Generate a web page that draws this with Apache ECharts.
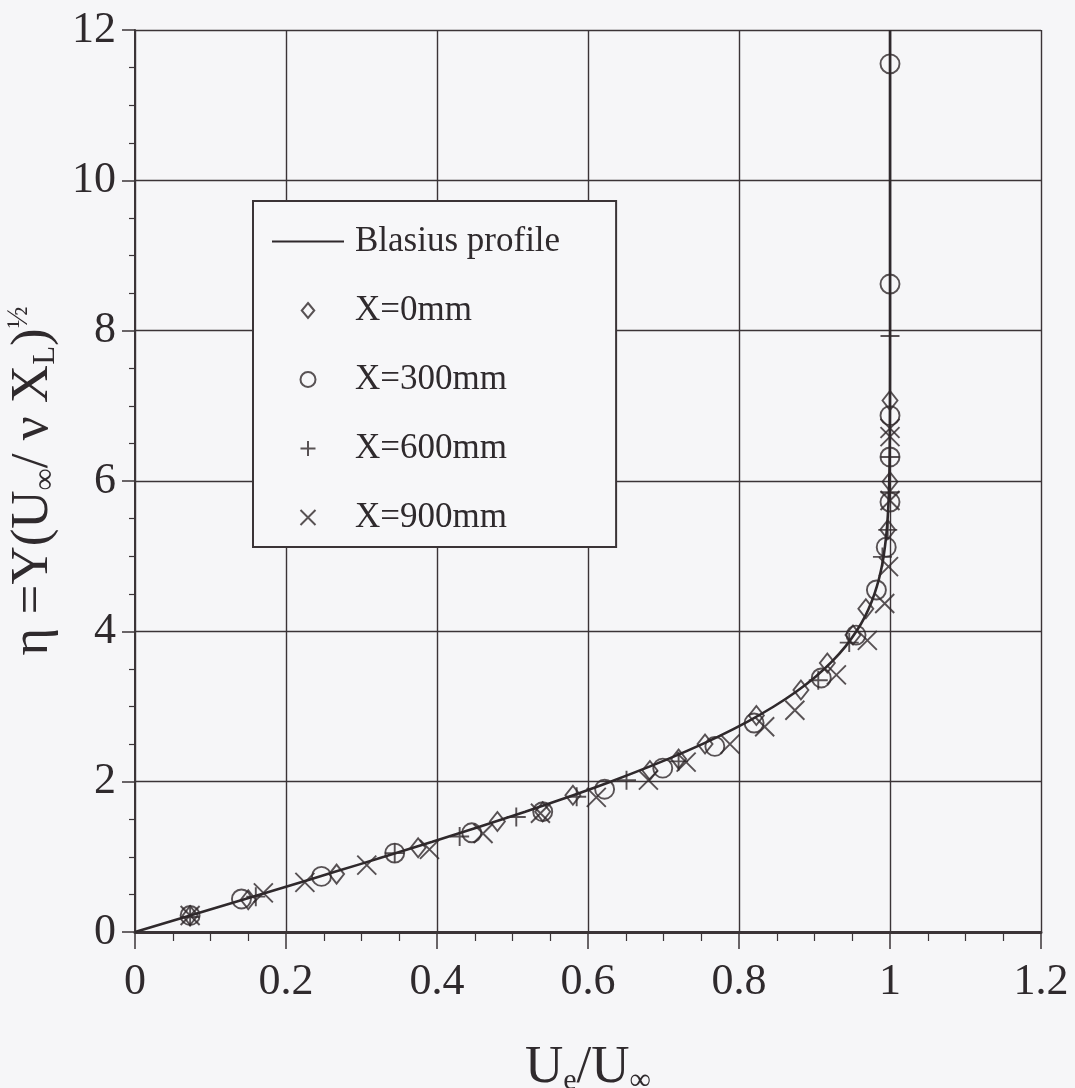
<!DOCTYPE html>
<html>
<head>
<meta charset="utf-8">
<title>Blasius boundary-layer profile</title>
<script src="https://cdn.jsdelivr.net/npm/echarts@6/dist/echarts.min.js"></script>
<style>
  html, body { margin: 0; padding: 0; background: #f6f6f8; }
  #chart { width: 1075px; height: 1088px; }
</style>
</head>
<body>
<div id="chart"></div>
<script>
// Blasius similarity solution: velocity ratio U/U∞ against η
const blasiusU   = [0, 0.0664, 0.1328, 0.1989, 0.2647, 0.3298, 0.3938, 0.4563, 0.5168, 0.5748, 0.6298, 0.6813, 0.7290, 0.7725, 0.8115, 0.8461, 0.8761, 0.9018, 0.9233, 0.9411, 0.9555, 0.9670, 0.9759, 0.9827, 0.9878, 0.9916, 0.9962, 0.9990, 0.9999, 1.0, 1.0];
const blasiusEta = [0, 0.2, 0.4, 0.6, 0.8, 1.0, 1.2, 1.4, 1.6, 1.8, 2.0, 2.2, 2.4, 2.6, 2.8, 3.0, 3.2, 3.4, 3.6, 3.8, 4.0, 4.2, 4.4, 4.6, 4.8, 5.0, 5.4, 6.0, 7.0, 8.0, 12.0];

// Measured profiles at four streamwise stations
const x0U   = [0.073, 0.150, 0.267, 0.375, 0.480, 0.540, 0.580, 0.682, 0.720, 0.755, 0.823, 0.882, 0.917, 0.951, 0.968, 0.997, 1.000, 1.000];
const x0Eta = [0.22, 0.43, 0.77, 1.12, 1.47, 1.60, 1.82, 2.15, 2.30, 2.50, 2.88, 3.22, 3.58, 3.95, 4.30, 5.35, 5.99, 7.07];

const x300U   = [0.073, 0.141, 0.247, 0.344, 0.446, 0.540, 0.622, 0.699, 0.768, 0.820, 0.909, 0.955, 0.982, 0.995, 1.000, 1.000, 1.000, 1.000, 1.000];
const x300Eta = [0.22, 0.44, 0.74, 1.05, 1.32, 1.60, 1.90, 2.18, 2.47, 2.78, 3.38, 3.95, 4.55, 5.12, 5.72, 6.32, 6.87, 8.62, 11.55];

const x600U   = [0.073, 0.160, 0.344, 0.430, 0.505, 0.585, 0.651, 0.720, 0.905, 0.946, 0.990, 0.997, 1.000, 1.000, 1.000];
const x600Eta = [0.20, 0.47, 1.05, 1.27, 1.53, 1.80, 2.02, 2.27, 3.35, 3.85, 4.99, 5.35, 5.85, 6.32, 7.93];

const x900U   = [0.073, 0.170, 0.225, 0.307, 0.390, 0.461, 0.537, 0.611, 0.680, 0.730, 0.788, 0.834, 0.874, 0.929, 0.970, 0.993, 0.998, 1.000, 1.000, 1.000];
const x900Eta = [0.22, 0.52, 0.66, 0.89, 1.10, 1.31, 1.58, 1.79, 2.02, 2.26, 2.50, 2.73, 2.95, 3.42, 3.88, 4.37, 4.86, 5.74, 6.59, 6.70];

const xTicks = [0, 0.2, 0.4, 0.6, 0.8, 1, 1.2];
const yTicks = [0, 2, 4, 6, 8, 10, 12];

const seriesNames = ['Blasius profile', 'X=0mm', 'X=300mm', 'X=600mm', 'X=900mm'];

const INK = '#3b3437';
const MARK = '#2f282b';
const TEXT = '#2f2a2d';
const SERIF = '"Liberation Serif", "Times New Roman", serif';

const pairs = (xs, ys) => xs.map((v, i) => [v, ys[i]]);

const markerStyle = { color: 'transparent', borderColor: MARK, borderWidth: 1.9 };

const chart = echarts.init(document.getElementById('chart'), null, { renderer: 'canvas' });

chart.setOption({
  backgroundColor: '#f6f6f8',
  animation: false,
  grid: { left: 135, right: 34, top: 30, bottom: 156, containLabel: false, outerBoundsMode: 'none' },
  legend: {
    left: 253,
    top: 201,
    orient: 'vertical',
    data: [
      { name: seriesNames[0], icon: 'path://M0,0L100,0L100,3L0,3Z' },
      seriesNames[1], seriesNames[2], seriesNames[3], seriesNames[4]
    ],
    symbolKeepAspect: true,
    backgroundColor: '#f7f7f9',
    borderColor: INK,
    borderWidth: 2,
    borderRadius: 0,
    padding: [23, 56, 12, 19],
    itemWidth: 72,
    itemHeight: 15,
    itemGap: 34,
    textStyle: { fontFamily: SERIF, fontSize: 35, color: TEXT, lineHeight: 34, padding: [0, 0, 0, 6] },
    selectedMode: false
  },
  xAxis: {
    type: 'value',
    min: xTicks[0],
    max: xTicks[xTicks.length - 1],
    interval: 0.2,
    name: '{m|U}{s|e}{m|/U}{s|∞}',
    nameLocation: 'middle',
    nameGap: 108,
    nameTextStyle: {
      rich: {
        m: { fontFamily: SERIF, fontSize: 53, color: TEXT, lineHeight: 56 },
        s: { fontFamily: SERIF, fontSize: 30, color: TEXT, lineHeight: 30, verticalAlign: 'bottom' }
      }
    },
    axisLine: { show: true, onZero: false, lineStyle: { color: INK, width: 3 } },
    axisTick: { show: true, inside: false, length: 17, lineStyle: { color: INK, width: 1.5 } },
    minorTick: { show: true, splitNumber: 4, length: 9, lineStyle: { color: INK, width: 1.2 } },
    splitLine: { show: true, lineStyle: { color: INK, width: 1.4 } },
    axisLabel: {
      margin: 28,
      fontFamily: SERIF,
      fontSize: 44,
      color: TEXT,
      formatter: v => String(Math.round(v * 10) / 10)
    }
  },
  yAxis: {
    type: 'value',
    min: yTicks[0],
    max: yTicks[yTicks.length - 1],
    interval: 2,
    name: '{m|η =Y(U}{s|∞}{m|/ ν X}{s|L}{m|)}{p|½}',
    nameLocation: 'middle',
    nameRotate: 90,
    nameGap: 45,
    nameTextStyle: {
      rich: {
        m: { fontFamily: SERIF, fontSize: 53, color: TEXT, lineHeight: 56 },
        s: { fontFamily: SERIF, fontSize: 31, color: TEXT, lineHeight: 31, verticalAlign: 'bottom' },
        p: { fontFamily: SERIF, fontSize: 29, color: TEXT, lineHeight: 29, verticalAlign: 'top' }
      }
    },
    axisLine: { show: true, onZero: false, lineStyle: { color: INK, width: 2 } },
    axisTick: { show: true, inside: false, length: 13, lineStyle: { color: INK, width: 1.5 } },
    minorTick: { show: true, splitNumber: 4, length: 6, lineStyle: { color: INK, width: 1.2 } },
    splitLine: { show: true, lineStyle: { color: INK, width: 1.4 } },
    axisLabel: {
      margin: 19,
      fontFamily: SERIF,
      fontSize: 44,
      color: TEXT
    }
  },
  series: [
    {
      name: seriesNames[0],
      type: 'line',
      data: pairs(blasiusU, blasiusEta),
      smooth: 0.3,
      symbol: 'none',
      lineStyle: { color: '#2f292c', width: 2.6 },
      itemStyle: { color: '#2f292c' },
      z: 3
    },
    {
      name: seriesNames[1],
      type: 'scatter',
      data: pairs(x0U, x0Eta),
      symbol: 'path://M5,0L10,6L5,12L0,6Z',
      symbolSize: [15, 19],
      itemStyle: markerStyle,
      z: 4
    },
    {
      name: seriesNames[2],
      type: 'scatter',
      data: pairs(x300U, x300Eta),
      symbol: 'circle',
      symbolSize: 19,
      itemStyle: markerStyle,
      z: 4
    },
    {
      name: seriesNames[3],
      type: 'scatter',
      data: pairs(x600U, x600Eta),
      symbol: 'path://M0,5L10,5M5,0L5,10',
      symbolSize: 19,
      itemStyle: markerStyle,
      z: 4
    },
    {
      name: seriesNames[4],
      type: 'scatter',
      data: pairs(x900U, x900Eta),
      symbol: 'path://M0,0L10,10M10,0L0,10',
      symbolSize: 19,
      itemStyle: markerStyle,
      z: 4
    }
  ]
});
</script>
</body>
</html>
